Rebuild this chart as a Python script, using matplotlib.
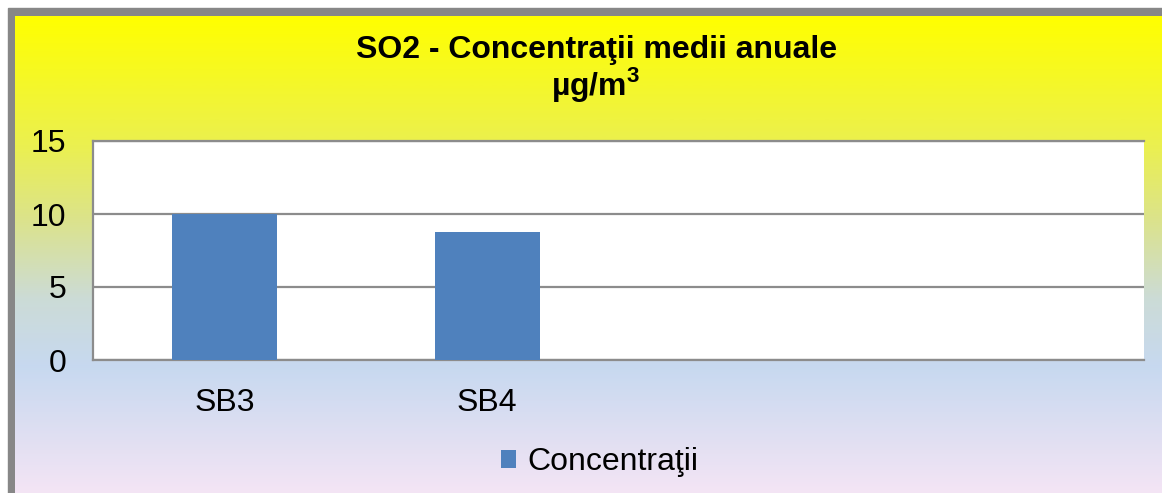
import numpy as np
import matplotlib
matplotlib.use("Agg")
import matplotlib.pyplot as plt
from matplotlib.patches import Rectangle
from matplotlib.colors import LinearSegmentedColormap

plt.rcParams['font.family'] = ['Liberation Sans', 'DejaVu Sans']

categories = ['SB3', 'SB4', '', '']
values = [10.0, 8.8, np.nan, np.nan]
series_name = 'Concentraţii'
title = 'SO2 - Concentraţii medii anuale\nµg/m$^\\mathregular{3}$'
yticks = [0, 5, 10, 15]

W, H = 1162, 493
fig = plt.figure(figsize=(W / 100, H / 100), dpi=100)
fig.patch.set_facecolor('white')

# background: gray frame + vertical gradient (office-like preset)
bg = fig.add_axes([0, 0, 1, 1], zorder=0)
bg.set_xlim(0, W)
bg.set_ylim(H, 0)
bg.axis('off')
bg.add_patch(Rectangle((8, 8), W + 20, H + 20, color='#878787', zorder=0))
stops = [(0.0, (1.0, 1.0, 0.0)),
         (0.27, (0.92, 0.94, 0.32)),
         (0.42, (0.86, 0.89, 0.55)),
         (0.58, (0.80, 0.86, 0.84)),
         (0.72, (0.78, 0.85, 0.94)),
         (1.0, (0.97, 0.90, 0.96))]
cmap = LinearSegmentedColormap.from_list('bggrad', stops)
grad = np.linspace(0, 1, 512).reshape(-1, 1)
bg.imshow(grad, cmap=cmap, aspect='auto', extent=(15, W + 20, H + 10, 16),
          zorder=1, interpolation='bilinear')

fig.text(0.513, 0.929, title, ha='center', va='top', fontsize=23,
         fontweight='bold', linespacing=1.0, zorder=5)

ax = fig.add_axes([93 / W, 1 - 360 / H, (1144 - 93) / W, (360 - 141) / H], zorder=2)
ax.set_facecolor('white')
x = np.arange(len(categories))
ax.bar(x, values, width=0.4, color='#4F81BD', label=series_name, zorder=3)
ax.set_xlim(-0.5, len(categories) - 0.5)
ax.set_ylim(0, 15)
ax.set_yticks(yticks)
ax.set_xticks(x)
ax.set_xticklabels(categories)
ax.yaxis.grid(True, color='#8C8C8C', linewidth=1.6, zorder=1)
ax.set_axisbelow(True)
for s in ['left', 'top', 'bottom']:
    ax.spines[s].set_color('#8C8C8C')
    ax.spines[s].set_linewidth(1.6)
ax.spines['right'].set_visible(False)
ax.tick_params(axis='x', length=0, labelsize=23, pad=20)
ax.tick_params(axis='y', length=0, labelsize=23, pad=19)

leg = fig.legend(loc='center', bbox_to_anchor=(0.516, 1 - 462 / H), frameon=False,
                 fontsize=23, handlelength=0.5, handleheight=0.5, handletextpad=0.35)

fig.savefig('out.png', dpi=100)
